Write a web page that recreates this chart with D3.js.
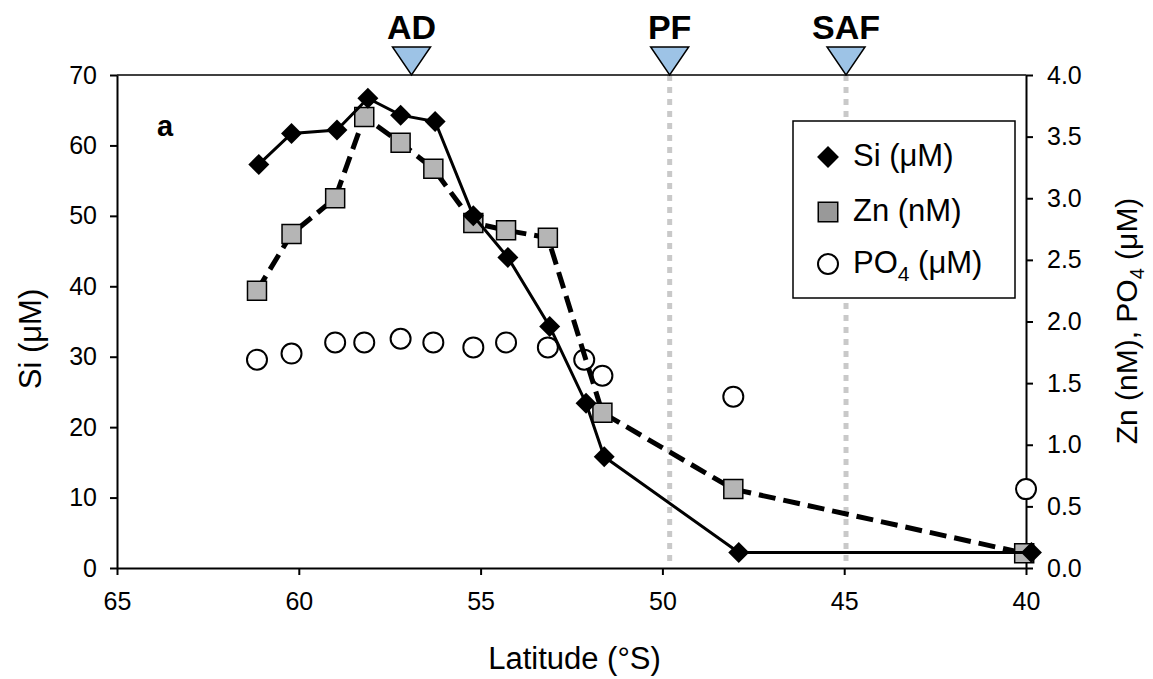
<!DOCTYPE html>
<html>
<head>
<meta charset="utf-8">
<script src="https://cdn.jsdelivr.net/npm/d3@7"></script>
<style>
  body { margin: 0; background: #fff; }
  svg text { font-family: "Liberation Sans", Arial, Helvetica, sans-serif; fill: #000; }
</style>
</head>
<body>
<div id="chart"></div>
<script>
// data
var siLat = [61.1, 60.2, 58.95, 58.1, 57.2, 56.25, 55.2, 54.25, 53.1, 52.1, 51.6, 47.9, 39.85];
var siVal = [57.3, 61.7, 62.2, 66.7, 64.3, 63.4, 50.0, 44.1, 34.3, 23.4, 15.8, 2.2, 2.2];

var znLat = [61.15, 60.2, 59.0, 58.2, 57.2, 56.3, 55.2, 54.3, 53.15, 51.65, 48.05, 40.05];
var znVal = [2.25, 2.71, 3.0, 3.66, 3.45, 3.24, 2.8, 2.74, 2.68, 1.26, 0.64, 0.12];

var poLat = [61.15, 60.2, 59.0, 58.2, 57.2, 56.3, 55.2, 54.3, 53.15, 52.15, 51.65, 48.05, 40.0];
var poVal = [1.69, 1.74, 1.83, 1.83, 1.86, 1.83, 1.79, 1.83, 1.79, 1.69, 1.56, 1.39, 0.64];

var fronts = ["AD", "PF", "SAF"];
var frontLat = [56.9, 49.8, 44.95];
var frontLine = [false, true, true];

var xTicks = [65, 60, 55, 50, 45, 40];
var siTicks = [0, 10, 20, 30, 40, 50, 60, 70];
var rightTicks = [0, 0.5, 1, 1.5, 2, 2.5, 3, 3.5, 4];

var W = 1153, H = 679;
var margin = {left: 117, top: 75, right: 127, bottom: 111};
var width = W - margin.left - margin.right,
    height = H - margin.top - margin.bottom;

var svg = d3.select("#chart").append("svg")
    .attr("width", W)
    .attr("height", H);

var x = d3.scaleLinear().domain([65, 40]).range([0, width]);
var ySi = d3.scaleLinear().domain([0, 70]).range([height, 0]);
var yR = d3.scaleLinear().domain([0, 4]).range([height, 0]);

var g = svg.append("g")
    .attr("transform", "translate(" + margin.left + "," + margin.top + ")");

// front lines (dotted grey)
fronts.forEach(function(f, i) {
  if (!frontLine[i]) return;
  g.append("line")
    .attr("x1", x(frontLat[i])).attr("x2", x(frontLat[i]))
    .attr("y1", 0).attr("y2", height - 2)
    .attr("stroke", "#c9c9c9")
    .attr("stroke-width", 5)
    .attr("stroke-dasharray", "6,6");
});

// top border
g.append("line")
  .attr("x1", 0).attr("x2", width)
  .attr("y1", 0).attr("y2", 0)
  .attr("stroke", "#000").attr("stroke-width", 1.5);

// axes
var xAxis = g.append("g")
    .attr("transform", "translate(0," + height + ")")
    .call(d3.axisBottom(x).tickValues(xTicks).tickSize(7).tickSizeOuter(0).tickPadding(17));

var yAxis = g.append("g")
    .call(d3.axisLeft(ySi).tickValues(siTicks).tickSize(7).tickSizeOuter(0).tickPadding(13));

var rAxis = g.append("g")
    .attr("transform", "translate(" + width + ",0)")
    .call(d3.axisRight(yR).tickValues(rightTicks).tickFormat(d3.format(".1f"))
      .tickSize(7).tickSizeOuter(0).tickPadding(14));

[xAxis, yAxis, rAxis].forEach(function(a) {
  a.select(".domain").attr("stroke", "#000").attr("stroke-width", 2);
  a.selectAll(".tick line").attr("stroke", "#000").attr("stroke-width", 2);
  a.selectAll(".tick text").style("font-size", "25px").attr("fill", "#000");
});

// PO4 circles
g.selectAll(".po")
    .data(poLat)
  .enter().append("circle")
    .attr("class", "po")
    .attr("cx", function(d) { return x(d); })
    .attr("cy", function(d, i) { return yR(poVal[i]); })
    .attr("r", 10)
    .attr("fill", "#fff")
    .attr("stroke", "#000")
    .attr("stroke-width", 2);

// Zn dashed line and squares
var znLine = d3.line()
    .x(function(d) { return x(d); })
    .y(function(d, i) { return yR(znVal[i]); });

g.append("path")
    .datum(znLat)
    .attr("d", znLine)
    .attr("fill", "none")
    .attr("stroke", "#000")
    .attr("stroke-width", 5)
    .attr("stroke-dasharray", "17,8");

g.selectAll(".zn")
    .data(znLat)
  .enter().append("path")
    .attr("class", "zn")
    .attr("d", d3.symbol(d3.symbolSquare, 361))
    .attr("transform", function(d, i) { return "translate(" + x(d) + "," + yR(znVal[i]) + ")"; })
    .attr("fill", "#b5b5b5")
    .attr("stroke", "#000")
    .attr("stroke-width", 1.5);

// Si solid line and diamonds
var siLine = d3.line()
    .x(function(d) { return x(d); })
    .y(function(d, i) { return ySi(siVal[i]); });

g.append("path")
    .datum(siLat)
    .attr("d", siLine)
    .attr("fill", "none")
    .attr("stroke", "#000")
    .attr("stroke-width", 3);

g.selectAll(".si")
    .data(siLat)
  .enter().append("path")
    .attr("class", "si")
    .attr("d", d3.symbol(d3.symbolSquare, 220))
    .attr("transform", function(d, i) { return "translate(" + x(d) + "," + ySi(siVal[i]) + ") rotate(45)"; })
    .attr("fill", "#000");

// front triangles + labels
fronts.forEach(function(f, i) {
  var cx = x(frontLat[i]);
  g.append("path")
    .attr("d", "M" + (cx - 19) + "," + (-28) + "L" + (cx + 19) + "," + (-28) + "L" + cx + ",0Z")
    .attr("fill", "#9dc3e6")
    .attr("stroke", "#000")
    .attr("stroke-width", 1.5);
  g.append("text")
    .attr("x", cx)
    .attr("y", -36)
    .attr("text-anchor", "middle")
    .style("font-size", "34px")
    .style("font-weight", "bold")
    .text(f);
});

// panel letter
g.append("text")
  .attr("x", 40).attr("y", 61)
  .style("font-size", "29px")
  .style("font-weight", "bold")
  .text("a");

// legend
var leg = g.append("g").attr("transform", "translate(" + (793 - margin.left) + "," + (121 - margin.top) + ")");
leg.append("rect")
  .attr("width", 222).attr("height", 177)
  .attr("fill", "#fff").attr("stroke", "#000").attr("stroke-width", 1.5);

leg.append("path")
  .attr("d", d3.symbol(d3.symbolSquare, 240))
  .attr("transform", "translate(35,36) rotate(45)")
  .attr("fill", "#000");
leg.append("path")
  .attr("d", d3.symbol(d3.symbolSquare, 380))
  .attr("transform", "translate(35,91)")
  .attr("fill", "#999").attr("stroke", "#000").attr("stroke-width", 1.5);
leg.append("circle")
  .attr("cx", 35).attr("cy", 143).attr("r", 10)
  .attr("fill", "#fff").attr("stroke", "#000").attr("stroke-width", 2);

leg.append("text").attr("x", 60).attr("y", 45).style("font-size", "31px").text("Si (μM)");
leg.append("text").attr("x", 60).attr("y", 100).style("font-size", "31px").text("Zn (nM)");
var poText = leg.append("text").attr("x", 60).attr("y", 152).style("font-size", "31px");
poText.append("tspan").text("PO");
poText.append("tspan").attr("dy", 8).style("font-size", "21px").text("4");
poText.append("tspan").attr("dy", -8).text(" (μM)");

// axis titles
svg.append("text")
  .attr("x", margin.left + width / 2 + 3)
  .attr("y", 669)
  .attr("text-anchor", "middle")
  .style("font-size", "31px")
  .text("Latitude (°S)");

svg.append("text")
  .attr("transform", "translate(41,339) rotate(-90)")
  .attr("text-anchor", "middle")
  .style("font-size", "31px")
  .text("Si (μM)");

var rt = svg.append("text")
  .attr("transform", "translate(1137,321) rotate(-90)")
  .attr("text-anchor", "middle")
  .style("font-size", "30px");
rt.append("tspan").text("Zn (nM), PO");
rt.append("tspan").attr("dy", 7).style("font-size", "20px").text("4");
rt.append("tspan").attr("dy", -7).text(" (μM)");
</script>
</body>
</html>
